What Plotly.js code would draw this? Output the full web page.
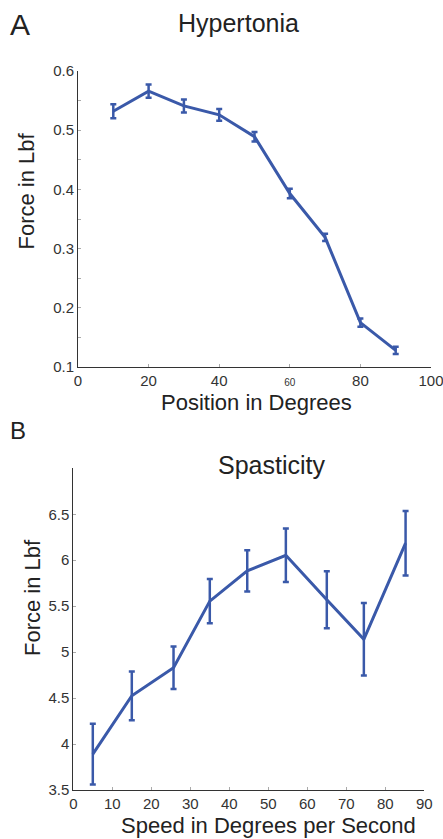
<!DOCTYPE html>
<html>
<head>
<meta charset="utf-8">
<script src="https://cdn.plot.ly/plotly-3.0.1.min.js"></script>
<style>html,body{margin:0;padding:0;background:#fff;}#chart{width:443px;height:839px;}</style>
</head>
<body>
<div id="chart"></div>
<script>
// Panel A: Hypertonia
const positionDeg = [10, 20, 30, 40, 50, 60, 70, 80, 90];
const hypertoniaForce = [0.532, 0.566, 0.541, 0.526, 0.489, 0.393, 0.319, 0.175, 0.128];
const hypertoniaErr = [0.012, 0.011, 0.011, 0.010, 0.008, 0.008, 0.006, 0.007, 0.006];
const xTickValsA = [0, 20, 40, 60, 80, 100];
const xTickTextA = ['0', '20', '40', '<span style="font-size:10px">60</span>', '80', '100'];
const yTickValsA = [0.1, 0.2, 0.3, 0.4, 0.5, 0.6];
const yTickTextA = ['0.1', '0.2', '0.3', '0.4', '0.5', '0.6'];

// Panel B: Spasticity
const speedDeg = [5, 15, 25.7, 35, 44.6, 54.5, 65, 74.5, 85.2];
const spasticityForce = [3.89, 4.525, 4.83, 5.555, 5.884, 6.054, 5.57, 5.14, 6.185];
const spasticityErr = [0.33, 0.265, 0.23, 0.24, 0.225, 0.29, 0.31, 0.395, 0.35];
const xTickValsB = [0, 10, 20, 30, 40, 50, 60, 70, 80, 90];
const xTickTextB = ['0', '10', '20', '30', '40', '50', '60', '70', '80', '90'];
const yTickValsB = [3.5, 4, 4.5, 5, 5.5, 6, 6.5];
const yTickTextB = ['3.5', '4', '4.5', '5', '5.5', '6', '6.5'];

const W = 443, H = 839;
const px = v => v / W;
const py = v => 1 - v / H;
const blue = '#3a59a9';
const FONT = 'Liberation Sans, Arial, sans-serif';

const traces = [
  {
    x: positionDeg, y: hypertoniaForce, type: 'scatter', mode: 'lines',
    line: {color: blue, width: 3},
    error_y: {type: 'data', array: hypertoniaErr, visible: true, color: blue, thickness: 2.5, width: 3},
    xaxis: 'x', yaxis: 'y', hoverinfo: 'skip'
  },
  {
    x: speedDeg, y: spasticityForce, type: 'scatter', mode: 'lines',
    line: {color: blue, width: 3},
    error_y: {type: 'data', array: spasticityErr, visible: true, color: blue, thickness: 2.5, width: 3},
    xaxis: 'x2', yaxis: 'y2', hoverinfo: 'skip'
  }
];

const axisCommon = {
  showgrid: false, zeroline: false, showline: true, linecolor: '#333', linewidth: 1,
  ticks: 'inside', ticklen: 3, tickcolor: '#aaa', tickwidth: 1,
  tickfont: {family: FONT, size: 15, color: '#333'}, tickmode: 'array',
  ticklabeloverflow: 'allow'
};

const layout = {
  width: W, height: H,
  margin: {l: 0, r: 0, t: 0, b: 0, pad: 0},
  paper_bgcolor: '#fff', plot_bgcolor: '#fff',
  showlegend: false,
  xaxis: Object.assign({}, axisCommon, {
    domain: [px(78), px(431)], range: [0, 100], anchor: 'y',
    tickvals: xTickValsA, ticktext: xTickTextA
  }),
  yaxis: Object.assign({}, axisCommon, {
    domain: [py(367), py(71)], range: [0.1, 0.6], anchor: 'x',
    tickvals: yTickValsA, ticktext: yTickTextA,
    minor: {tickvals: [0.15, 0.25, 0.35, 0.45, 0.55], ticks: 'inside', ticklen: 3, tickcolor: '#aaa'}
  }),
  xaxis2: Object.assign({}, axisCommon, {
    domain: [px(73.3), px(424.3)], range: [0, 90], anchor: 'y2',
    tickvals: xTickValsB, ticktext: xTickTextB
  }),
  yaxis2: Object.assign({}, axisCommon, {
    domain: [py(790), py(468.3)], range: [3.5, 7], anchor: 'x2',
    tickvals: yTickValsB, ticktext: yTickTextB
  }),
  annotations: [
    {text: 'A', x: px(20), y: py(25), font: {size: 30}},
    {text: 'Hypertonia', x: px(239), y: py(23), font: {size: 25}},
    {text: 'Force in Lbf', x: px(26.5), y: py(191), textangle: -90, font: {size: 22}},
    {text: 'Position in Degrees', x: px(256.7), y: py(402), font: {size: 22}},
    {text: 'B', x: px(18), y: py(430), font: {size: 24}},
    {text: 'Spasticity', x: px(271), y: py(465), font: {size: 25}},
    {text: 'Force in Lbf', x: px(32.5), y: py(597.5), textangle: -90, font: {size: 22}},
    {text: 'Speed in Degrees per Second', x: px(268.7), y: py(825), font: {size: 22}}
  ].map(a => Object.assign({
    xref: 'paper', yref: 'paper', xanchor: 'center', yanchor: 'middle', showarrow: false
  }, a, {font: Object.assign({family: FONT, color: '#222'}, a.font)}))
};

Plotly.newPlot('chart', traces, layout, {staticPlot: true, displayModeBar: false});
</script>
</body>
</html>
